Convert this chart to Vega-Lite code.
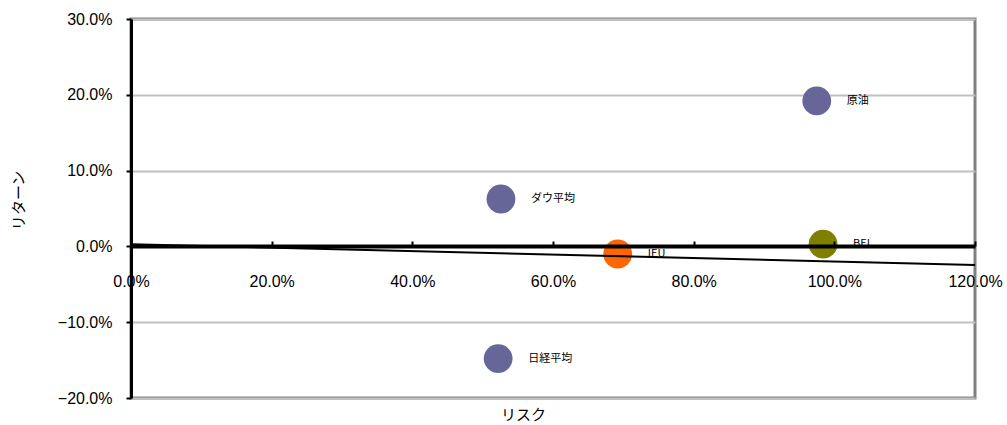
{
  "$schema": "https://vega.github.io/schema/vega-lite/v6.json",
  "width": 844,
  "height": 379,
  "autosize": "none",
  "padding": {"left": 131, "top": 19, "right": 32, "bottom": 27},
  "background": "white",
  "config": {
    "view": {"stroke": "#808080", "strokeWidth": 3},
    "font": "Liberation Sans"
  },
  "datasets": {
    "points": [
      {"name": "原油", "risk": 0.975, "ret": 0.192},
      {"name": "ダウ平均", "risk": 0.526, "ret": 0.0625},
      {"name": "IEU", "risk": 0.692, "ret": -0.010},
      {"name": "BEI", "risk": 0.984, "ret": 0.003},
      {"name": "日経平均", "risk": 0.522, "ret": -0.148}
    ],
    "trend": [
      {"risk": 0.0, "ret": 0.003},
      {"risk": 1.2, "ret": -0.0245}
    ]
  },
  "encoding": {
    "x": {
      "field": "risk",
      "type": "quantitative",
      "scale": {"domain": [0, 1.2], "nice": false, "zero": false},
      "axis": {
        "orient": "bottom",
        "offset": -152,
        "values": [0, 0.2, 0.4, 0.6, 0.8, 1.0, 1.2],
        "format": ".1%",
        "grid": false,
        "zindex": 1,
        "domainColor": "black",
        "domainWidth": 4,
        "tickColor": "black",
        "tickWidth": 2,
        "tickSize": -5,
        "labelPadding": 32,
        "labelFontSize": 16,
        "labelColor": "black",
        "labelOverlap": false,
        "labelFlush": false,
        "title": "リスク",
        "titleFont": "Noto Sans CJK JP",
        "titleFontSize": 15,
        "titleFontWeight": "normal",
        "titleColor": "black",
        "titleX": 392,
        "titleY": 161
      }
    },
    "y": {
      "field": "ret",
      "type": "quantitative",
      "scale": {"domain": [-0.2, 0.3], "nice": false, "zero": false},
      "axis": {
        "orient": "left",
        "values": [-0.2, -0.1, 0, 0.1, 0.2, 0.3],
        "format": ".1%",
        "grid": true,
        "gridColor": "#c0c0c0",
        "gridWidth": 2,
        "domainColor": "black",
        "domainWidth": 3,
        "tickColor": "black",
        "tickWidth": 2,
        "tickSize": 5,
        "labelPadding": 14,
        "labelFontSize": 16,
        "labelColor": "black",
        "labelOverlap": false,
        "labelFlush": false,
        "title": "リターン",
        "titleFont": "Noto Sans CJK JP",
        "titleFontSize": 15,
        "titleFontWeight": "normal",
        "titleColor": "black",
        "titleX": -105,
        "titleY": 181
      }
    }
  },
  "layer": [
    {
      "data": {"name": "points"},
      "mark": {"type": "circle", "size": 830, "opacity": 1},
      "encoding": {
        "color": {
          "field": "name",
          "type": "nominal",
          "scale": {
            "domain": ["原油", "ダウ平均", "IEU", "BEI", "日経平均"],
            "range": ["#666699", "#666699", "#FF6600", "#808000", "#666699"]
          },
          "legend": null
        }
      }
    },
    {
      "data": {"name": "points"},
      "mark": {"type": "text", "align": "left", "baseline": "middle", "dx": 30, "fontSize": 11, "font": "Noto Sans CJK JP", "color": "black"},
      "encoding": {
        "text": {"field": "name", "type": "nominal"}
      }
    },
    {
      "data": {"name": "trend"},
      "mark": {"type": "line", "color": "black", "strokeWidth": 2},
      "encoding": {}
    }
  ]
}
